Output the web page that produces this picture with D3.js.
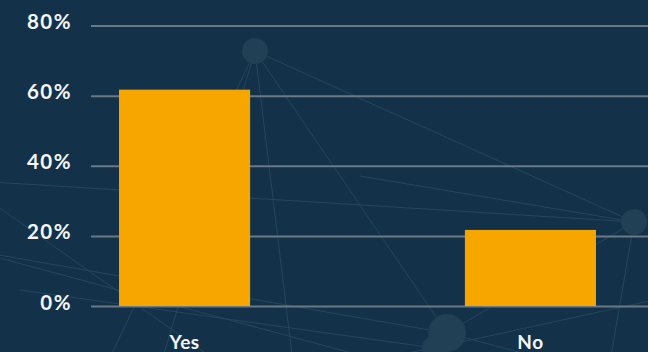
<!DOCTYPE html>
<html>
<head>
<meta charset="utf-8">
<script src="https://cdn.jsdelivr.net/npm/d3@7"></script>
<style>
  html, body { margin: 0; padding: 0; background: #13324a; }
  svg { display: block; }
  text { font-family: Lato, "Open Sans", sans-serif; font-weight: 700; fill: #f4f6f8; }
</style>
</head>
<body>
<svg id="chart" width="648" height="352"></svg>
<script>
// Survey answers and their share of respondents (%)
const categories = ["Yes", "No"];
const shares = [61.7, 21.7];
const yTickValues = [0, 20, 40, 60, 80];

// Faint network pattern behind the chart
const bgNodes = [
  { id: "a", x: 255, y: 51, r: 13 },
  { id: "b", x: 447, y: 333, r: 19 },
  { id: "c", x: 434, y: 348, r: 12 },
  { id: "d", x: 634, y: 222, r: 13 },
  { id: "e", x: 700, y: 400, r: 62 },
  { id: "f", x: -40, y: 180, r: 0 },
  { id: "g", x: -30, y: 250, r: 0 },
  { id: "h", x: 90, y: 400, r: 0 },
  { id: "i", x: 300, y: 420, r: 0 },
  { id: "j", x: 360, y: 176, r: 0 },
  { id: "k", x: 700, y: 290, r: 0 },
  { id: "l", x: 600, y: 420, r: 0 },
  { id: "m", x: 20, y: 290, r: 0 },
  { id: "n", x: 150, y: 400, r: 0 }
];
const bgLinks = [
  ["a", "d"], ["a", "h"], ["a", "n"], ["a", "i"], ["a", "b"],
  ["f", "d"], ["g", "b"], ["f", "i"], ["m", "c"], ["j", "d"],
  ["b", "d"], ["c", "k"], ["d", "l"], ["b", "e"], ["g", "l"],
  ["c", "n"]
];

const W = 648, H = 352;
const svg = d3.select("#chart");

const y = d3.scaleLinear().domain([0, 80]).range([306, 25.5]);
const x = d3.scaleBand()
  .domain(categories)
  .range([91, 624])
  .paddingInner(0.621)
  .paddingOuter(0.081);

// background network
const nodeById = new Map(bgNodes.map(n => [n.id, n]));
const bg = svg.append("g");
bg.selectAll("line")
  .data(bgLinks)
  .join("line")
  .attr("x1", d => nodeById.get(d[0]).x)
  .attr("y1", d => nodeById.get(d[0]).y)
  .attr("x2", d => nodeById.get(d[1]).x)
  .attr("y2", d => nodeById.get(d[1]).y)
  .attr("stroke", "#26465c")
  .attr("stroke-width", 1);
bg.selectAll("circle")
  .data(bgNodes.filter(n => n.r > 0))
  .join("circle")
  .attr("cx", d => d.x)
  .attr("cy", d => d.y)
  .attr("r", d => d.r)
  .attr("fill", "#213f55");

// y axis with full-width grid lines
const yAxis = svg.append("g")
  .attr("transform", "translate(91,0)")
  .call(d3.axisLeft(y)
    .tickValues(yTickValues)
    .tickSize(-(W - 91))
    .tickPadding(19)
    .tickFormat(d => d + "%"));
yAxis.select(".domain").remove();
yAxis.selectAll(".tick line")
  .attr("stroke", "#6b7984")
  .attr("stroke-width", 2);
yAxis.selectAll(".tick text")
  .attr("dy", "3px")
  .style("font-size", "20.5px")
  .style("letter-spacing", "1.5px")
  .attr("fill", "#f4f6f8");

// bars
svg.append("g")
  .selectAll("rect")
  .data(categories.map((c, i) => ({ c, v: shares[i] })))
  .join("rect")
  .attr("x", d => x(d.c))
  .attr("y", d => y(d.v))
  .attr("width", x.bandwidth())
  .attr("height", d => y(0) - y(d.v))
  .attr("fill", "#f7a600");

// category labels
const xAxis = svg.append("g")
  .attr("transform", "translate(0,306)")
  .call(d3.axisBottom(x).tickSize(0).tickPadding(0));
xAxis.select(".domain").remove();
xAxis.selectAll(".tick text")
  .attr("y", 43)
  .attr("dy", "0")
  .style("font-size", "19px")
  .style("letter-spacing", "0.5px")
  .attr("fill", "#f4f6f8");
</script>
</body>
</html>
